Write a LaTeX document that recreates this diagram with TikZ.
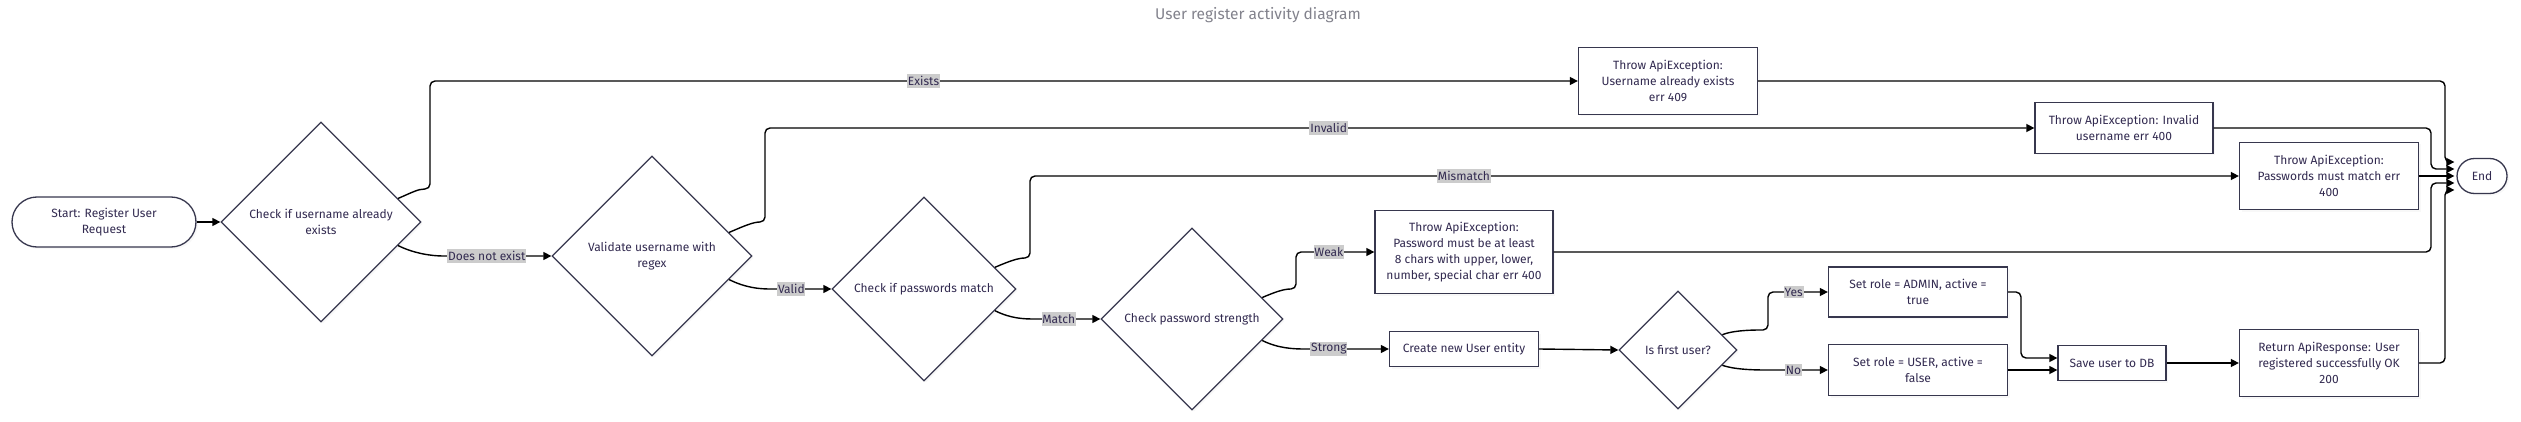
\documentclass[tikz,border=0pt]{standalone}
\usepackage{fontspec}
\setmainfont{Fira Sans}
\usetikzlibrary{shapes.geometric,shapes.misc,arrows.meta,calc,shadows}
\definecolor{nodeline}{RGB}{55,55,78}
\definecolor{nodetext}{RGB}{50,42,80}
\definecolor{lblbg}{RGB}{204,204,204}
\definecolor{titlegray}{RGB}{130,130,140}
\begin{document}
\begin{tikzpicture}[x=1pt,y=1pt,
  base/.style={draw=nodeline, line width=1.3pt, fill=white, text=nodetext,
    font=\fontsize{12}{16}\selectfont, align=center, inner sep=0pt,
    drop shadow={shadow xshift=2pt, shadow yshift=-2pt, opacity=0.06}},
  box/.style={base, rectangle},
  dec/.style={base, diamond, aspect=1},
  term/.style={base, rounded rectangle},
  edge/.style={draw=black, line width=1.4pt, -{Triangle[length=8pt,width=8pt]}, rounded corners=5pt},
  lbl/.style={fill=lblbg, text=nodetext, font=\fontsize{12}{14}\selectfont, inner xsep=0.8pt, inner ysep=2pt, sharp corners}
]
\useasboundingbox (0,0) rectangle (2521,421);
\node[text=titlegray, font=\fontsize{15.5}{17}\selectfont] (title) at (1258,406) {User register activity diagram};

\node[term, minimum width=184, minimum height=50] (start) at (104,199) {Start: Register User\\Request};
\node[dec, minimum width=200, minimum height=200] (d1) at (321,199) {Check if username already\\exists};
\node[dec, minimum width=200, minimum height=200] (d2) at (652,165) {Validate username with\\regex};
\node[dec, minimum width=184, minimum height=184] (d3) at (924,132) {Check if passwords match};
\node[dec, minimum width=182, minimum height=182] (d4) at (1192,102) {Check password strength};
\node[box, minimum width=179, minimum height=67] (exists) at (1668,340) {Throw ApiException:\\Username already exists\\err 409};
\node[box, minimum width=178, minimum height=51] (invalid) at (2124,293) {Throw ApiException: Invalid\\username err 400};
\node[box, minimum width=179, minimum height=67] (mismatch) at (2329,245) {Throw ApiException:\\Passwords must match err\\400};
\node[term, minimum width=50, minimum height=35] (end) at (2482,245) {End};
\node[box, minimum width=178, minimum height=83] (weak) at (1464,169) {Throw ApiException:\\Password must be at least\\8 chars with upper, lower,\\number, special char err 400};
\node[box, minimum width=149, minimum height=35] (create) at (1464,72) {Create new User entity};
\node[dec, minimum width=118, minimum height=118] (first) at (1678,71) {Is first user?};
\node[box, minimum width=179, minimum height=50] (admin) at (1918,129) {Set role = ADMIN, active =\\true};
\node[box, minimum width=179, minimum height=51] (user) at (1918,51) {Set role = USER, active =\\false};
\node[box, minimum width=108, minimum height=35] (save) at (2112,58) {Save user to DB};
\node[box, minimum width=179, minimum height=67] (ret) at (2329,58) {Return ApiResponse: User\\registered successfully OK\\200};

\coordinate (e1) at ($(end.west)+(-2,14)$);
\coordinate (e2) at ($(end.west)+(-2,7)$);
\coordinate (e3) at ($(end.west)+(-2,0)$);
\coordinate (e4) at ($(end.west)+(-2,-7)$);
\coordinate (e5) at ($(end.west)+(-2,-14)$);

\draw[edge] (start.east) -- (d1.west);
\draw[edge] (d1.17) .. controls +(14,6) and +(-12,0) .. (430,232) -- (430,340) -- node[lbl,pos=0.43]{Exists} (exists.west);
\draw[edge] (d1.-17) .. controls +(16,-8) and +(-16,0) .. (448,165) -- node[lbl,pos=0.375]{Does not exist} (d2.west);
\draw[edge] (d2.17) .. controls +(14,6) and +(-12,0) .. (765,199) -- (765,293) -- node[lbl,pos=0.444]{Invalid} (invalid.west);
\draw[edge] (d2.-17) .. controls +(16,-8) and +(-16,0) .. (775,132) -- node[lbl,pos=0.29]{Valid} (d3.west);
\draw[edge] (d3.17) .. controls +(14,6) and +(-12,0) .. (1030,163) -- (1030,245) -- node[lbl,pos=0.359]{Mismatch} (mismatch.west);
\draw[edge] (d3.-17) .. controls +(16,-8) and +(-16,0) .. (1040,102) -- node[lbl,pos=0.31]{Match} (d4.west);
\draw[edge] (d4.17) .. controls +(14,6) and +(-12,0) .. (1296,132) -- (1296,169) -- node[lbl,pos=0.42]{Weak} (weak.west);
\draw[edge] (d4.-17) .. controls +(16,-8) and +(-16,0) .. (1310,72) -- node[lbl,pos=0.24]{Strong} (create.west);
\draw[edge] (create.east) -- (first.west);
\draw[edge] (first.19) .. controls +(12,5) and +(-10,0) .. (1768,91) -- (1768,129) -- node[lbl,pos=0.43]{Yes} (admin.west);
\draw[edge] (first.-19) .. controls +(14,-5) and +(-14,0) .. (1775,51) -- node[lbl,pos=0.35]{No} (user.west);
\draw[edge] (admin.east) -- (2021,129) -- (2021,63) -- ($(save.west)+(0,5)$);
\draw[edge] (user.east) -- ($(save.west)+(0,-7)$);
\draw[edge] (save.east) -- (ret.west);
\draw[edge] (exists.east) -- (2445,340) -- (2445,259) -- (e1);
\draw[edge] (invalid.east) -- (2431,293) -- (2431,252) -- (e2);
\draw[edge] (mismatch.east) -- (e3);
\draw[edge] (weak.east) -- (2431,169) -- (2431,238) -- (e4);
\draw[edge] (ret.east) -- (2445,58) -- (2445,231) -- (e5);
\end{tikzpicture}
\end{document}
